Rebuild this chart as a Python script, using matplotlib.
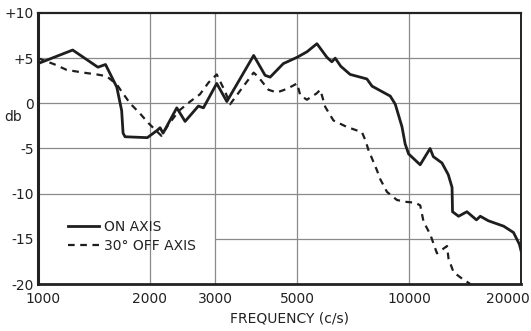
import numpy as np
import matplotlib
matplotlib.use("Agg")
import matplotlib.pyplot as plt
import matplotlib.transforms as mtransforms

# ------------------------------
# Données
# ------------------------------
on_axis_freq = [1000, 1240, 1450, 1520, 1630, 1680, 1695, 1716, 1970, 2093,
                2132, 2172, 2365, 2490, 2704, 2790, 3030, 3226, 3810, 4090,
                4220, 4580, 4990, 5300, 5640, 6000, 6188, 6318, 6540, 6930,
                7690, 7940, 8890, 9170, 9560, 9750, 9960, 10700, 11380, 11610,
                12250, 12740, 13040, 13080, 13580, 14300, 15170, 15540, 16330, 17960,
                19090, 19800, 20000]
on_axis_db = [4.4, 5.9, 4.0, 4.3, 1.8, -0.8, -3.3, -3.7, -3.8, -3.0,
              -2.7, -3.3, -0.5, -2.0, -0.3, -0.5, 2.2, 0.2, 5.3, 3.1,
              2.9, 4.4, 5.1, 5.7, 6.6, 5.1, 4.6, 5.0, 4.1, 3.2,
              2.7, 1.9, 0.8, -0.1, -2.6, -4.5, -5.6, -6.8, -5.0, -5.9,
              -6.6, -7.9, -9.3, -12.0, -12.5, -12.0, -12.9, -12.5, -13.0, -13.6,
              -14.3, -15.6, -16.3]

off_axis_freq = [1000, 1110, 1195, 1325, 1440, 1530, 1630, 1680, 1770, 1880,
                 1985, 2150, 2250, 2400, 2570, 2730, 2880, 3030, 3192, 3292,
                 3503, 3810, 3925, 4177, 4400, 4681, 4990, 5085, 5300, 5630,
                 5760, 5940, 6250, 6780, 7458, 7620, 7770, 8183, 8354, 8709,
                 9264, 9755, 10380, 10706, 10927, 11390, 11875, 12640, 12760, 13165,
                 13870, 14600]
off_axis_db = [5.0, 4.3, 3.7, 3.4, 3.2, 3.0, 2.1, 1.3, 0.0, -1.1,
               -2.2, -3.6, -2.3, -0.8, 0.2, 1.0, 2.3, 3.2, 1.3, -0.1,
               1.4, 3.4, 2.9, 1.5, 1.2, 1.6, 2.2, 0.9, 0.4, 1.1,
               1.5, -0.4, -1.9, -2.6, -3.2, -4.1, -5.2, -7.4, -8.4, -9.8,
               -10.7, -10.9, -11.0, -11.3, -13.1, -14.5, -16.6, -15.8, -17.2, -18.7,
               -19.4, -20.0]

freq_ticks = [1000, 2000, 3000, 5000, 10000, 20000]
freq_labels = ["1000", "2000", "3000", "5000", "10000", "20000"]
db_ticks = [10, 5, 0, -5, -10, -15, -20]
db_labels = ["+10", "+5", "0", "-5", "-10", "-15", "-20"]

plt.rcParams['font.family'] = ['DejaVu Sans']

fig = plt.figure(figsize=(5.31, 3.31), dpi=100)
ax = fig.add_axes([38 / 531, 1 - 284 / 331, (521 - 38) / 531, (284 - 13) / 331])

ax.set_xscale('log')
ax.set_xlim(1000, 20000)
ax.set_ylim(-20, 10)

# Grille (la ligne -15 est interrompue derrière la légende)
grid_kw = dict(color='#8a8a8a', linewidth=0.9, zorder=1)
for f in freq_ticks[1:-1]:
    ax.axvline(f, **grid_kw)
for d in db_ticks[1:-1]:
    if d == -15:
        ax.hlines(d, 3000, 20000, **grid_kw)
    else:
        ax.axhline(d, **grid_kw)

ax.plot(on_axis_freq, on_axis_db, '-', color='#1e1e1e', linewidth=2.0,
        label='ON AXIS', zorder=3)
ax.plot(off_axis_freq, off_axis_db, color='#1e1e1e', linewidth=1.6,
        linestyle=(0, (3, 2.5)), label='30° OFF AXIS', zorder=3)

ax.set_xticks(freq_ticks)
ax.set_xticklabels(freq_labels)
ax.xaxis.set_minor_locator(matplotlib.ticker.NullLocator())
ax.set_yticks(db_ticks)
ax.set_yticklabels(db_labels)
ax.tick_params(axis='both', length=0, labelsize=10, colors='#222222')
ax.tick_params(axis='x', pad=6)
ax.tick_params(axis='y', pad=3)

# petits décalages des étiquettes aux extrémités
labels = ax.get_xticklabels()
labels[0].set_transform(labels[0].get_transform() +
                        mtransforms.ScaledTranslation(5 / 100, 0, fig.dpi_scale_trans))
labels[-1].set_transform(labels[-1].get_transform() +
                         mtransforms.ScaledTranslation(-13 / 100, 0, fig.dpi_scale_trans))

for side, lw in [('left', 2.2), ('bottom', 2.0), ('top', 1.6), ('right', 1.4)]:
    ax.spines[side].set_linewidth(lw)
    ax.spines[side].set_color('#222222')

fig.text(13 / 531, 1 - 117 / 331, 'db', fontsize=10, color='#222222',
         ha='center', va='center')
fig.text(290 / 531, 1 - 318 / 331, 'FREQUENCY (c/s)', fontsize=10,
         color='#222222', ha='center', va='center')

ax.legend(loc='upper left', bbox_to_anchor=(0.062, 0.235), frameon=False,
          fontsize=10, handlelength=2.2, handletextpad=0.4,
          labelspacing=0.36, borderpad=0, borderaxespad=0,
          labelcolor='#222222')

fig.savefig('out.png', dpi=100)
